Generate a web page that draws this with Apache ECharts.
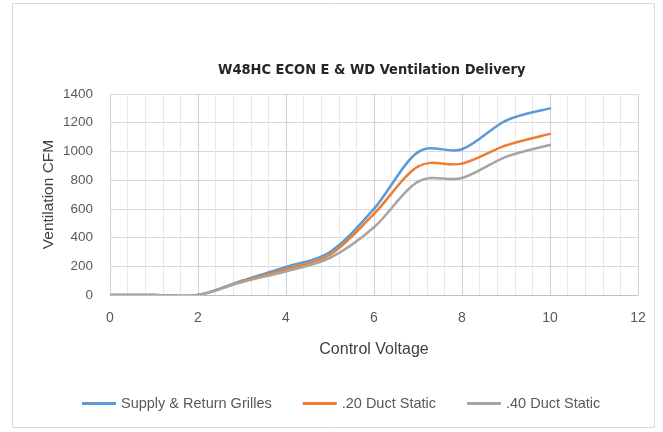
<!DOCTYPE html>
<html lang="en">
<head>
    <meta charset="UTF-8">
    <title>W48HC ECON E &amp; WD Ventilation Delivery</title>
    <script src="https://cdn.jsdelivr.net/npm/echarts@6/dist/echarts.min.js"></script>
    <style>
        body { margin: 0; background: #fff; }
        #chart { width: 663px; height: 432px; }
    </style>
</head>
<body>
<div id="chart"></div>
<script type="text/javascript">
    // readings taken from the chart, one point per volt
    var voltage = [0, 1, 2, 3, 4, 5, 6, 7, 8, 9, 10];
    var supplyReturn = [0, 0, 0, 100, 195, 300, 600, 995, 1015, 1215, 1300];
    var duct20 = [0, 0, 0, 95, 180, 280, 565, 895, 915, 1042, 1122];
    var duct40 = [0, 0, 0, 90, 165, 258, 472, 790, 815, 962, 1045];
    var seriesNames = ['Supply & Return Grilles', '.20 Duct Static', '.40 Duct Static'];
    var colors = ['#5B9BD5', '#ED7D31', '#A5A5A5'];

    function pairs(ys) {
        var out = [];
        for (var i = 0; i < voltage.length; i++) {
            out.push([voltage[i], ys[i]]);
        }
        return out;
    }

    // excel style smoothed line: catmull-rom through the data points,
    // positions come from api.coord so the axes do the scaling
    function smoothLine(data, color) {
        return function (params, api) {
            if (params.dataIndex !== 0) return null;
            var p = data.map(function (d) { return api.coord(d); });
            var n = p.length;
            var segs = [];
            for (var i = 0; i < n - 1; i++) {
                var p0 = p[Math.max(i - 1, 0)];
                var p1 = p[i];
                var p2 = p[i + 1];
                var p3 = p[Math.min(i + 2, n - 1)];
                segs.push({
                    type: 'bezierCurve',
                    shape: {
                        x1: p1[0], y1: p1[1],
                        cpx1: p1[0] + (p2[0] - p0[0]) / 6,
                        cpy1: p1[1] + (p2[1] - p0[1]) / 6,
                        cpx2: p2[0] - (p3[0] - p1[0]) / 6,
                        cpy2: p2[1] - (p3[1] - p1[1]) / 6,
                        x2: p2[0], y2: p2[1]
                    },
                    style: { stroke: color, lineWidth: 2.5, fill: null, lineCap: 'round' }
                });
            }
            return { type: 'group', children: segs };
        };
    }

    var myChart = echarts.init(document.getElementById('chart'));
    var font = "'Liberation Sans', Arial, sans-serif";

    var series = [supplyReturn, duct20, duct40].map(function (ys, i) {
        var data = pairs(ys);
        return {
            name: seriesNames[i],
            type: 'custom',
            coordinateSystem: 'cartesian2d',
            clip: true,
            data: data,
            itemStyle: { color: colors[i] },
            renderItem: smoothLine(data, colors[i])
        };
    });

    myChart.setOption({
        animation: false,
        color: colors,
        graphic: [{
            type: 'rect',
            shape: { x: 12.5, y: 3.5, width: 642, height: 424 },
            style: { fill: 'none', stroke: '#d9d9d9', lineWidth: 1 },
            silent: true
        }],
        title: {
            text: 'W48HC ECON E & WD Ventilation Delivery',
            left: 213,
            top: 58,
            textStyle: {
                fontFamily: "'Liberation Sans Narrow', 'DejaVu Sans Condensed', Arial, sans-serif",
                fontSize: 14.5,
                fontWeight: 'bold',
                color: '#262626'
            }
        },
        legend: {
            left: 77,
            top: 391,
            icon: 'rect',
            itemWidth: 34,
            itemHeight: 3,
            itemGap: 31,
            textStyle: { fontFamily: font, fontSize: 14.5, color: '#595959' },
            data: seriesNames.map(function (name, i) {
                return { name: name, itemStyle: { color: colors[i] } };
            })
        },
        grid: {
            left: 110,
            right: 25,
            top: 94,
            bottom: 137
        },
        xAxis: {
            type: 'value',
            min: 0,
            max: 12,
            interval: 2,
            name: 'Control Voltage',
            nameLocation: 'middle',
            nameGap: 47,
            nameMoveOverlap: false,
            nameTextStyle: { fontFamily: font, fontSize: 16, color: '#404040' },
            axisLine: { show: true, lineStyle: { color: '#bfbfbf' } },
            axisTick: { show: false },
            axisLabel: { fontFamily: font, fontSize: 14, color: '#595959', margin: 16 },
            splitLine: { show: true, lineStyle: { color: '#d0d0d0', width: 1 } },
            minorTick: { show: false, splitNumber: 5 },
            minorSplitLine: { show: true, lineStyle: { color: '#e8e8e8', width: 1 } }
        },
        yAxis: {
            type: 'value',
            min: 0,
            max: 1400,
            interval: 200,
            name: 'Ventilation CFM',
            nameLocation: 'middle',
            nameGap: 53,
            nameMoveOverlap: false,
            nameTextStyle: { fontFamily: font, fontSize: 15.5, color: '#404040' },
            axisLine: { show: false },
            axisTick: { show: false },
            axisLabel: {
                fontFamily: font, fontSize: 13.5, color: '#595959', margin: 17,
                formatter: function (v) { return String(v); }
            },
            splitLine: { show: true, lineStyle: { color: '#d9d9d9', width: 1 } }
        },
        series: series
    });
</script>
</body>
</html>
